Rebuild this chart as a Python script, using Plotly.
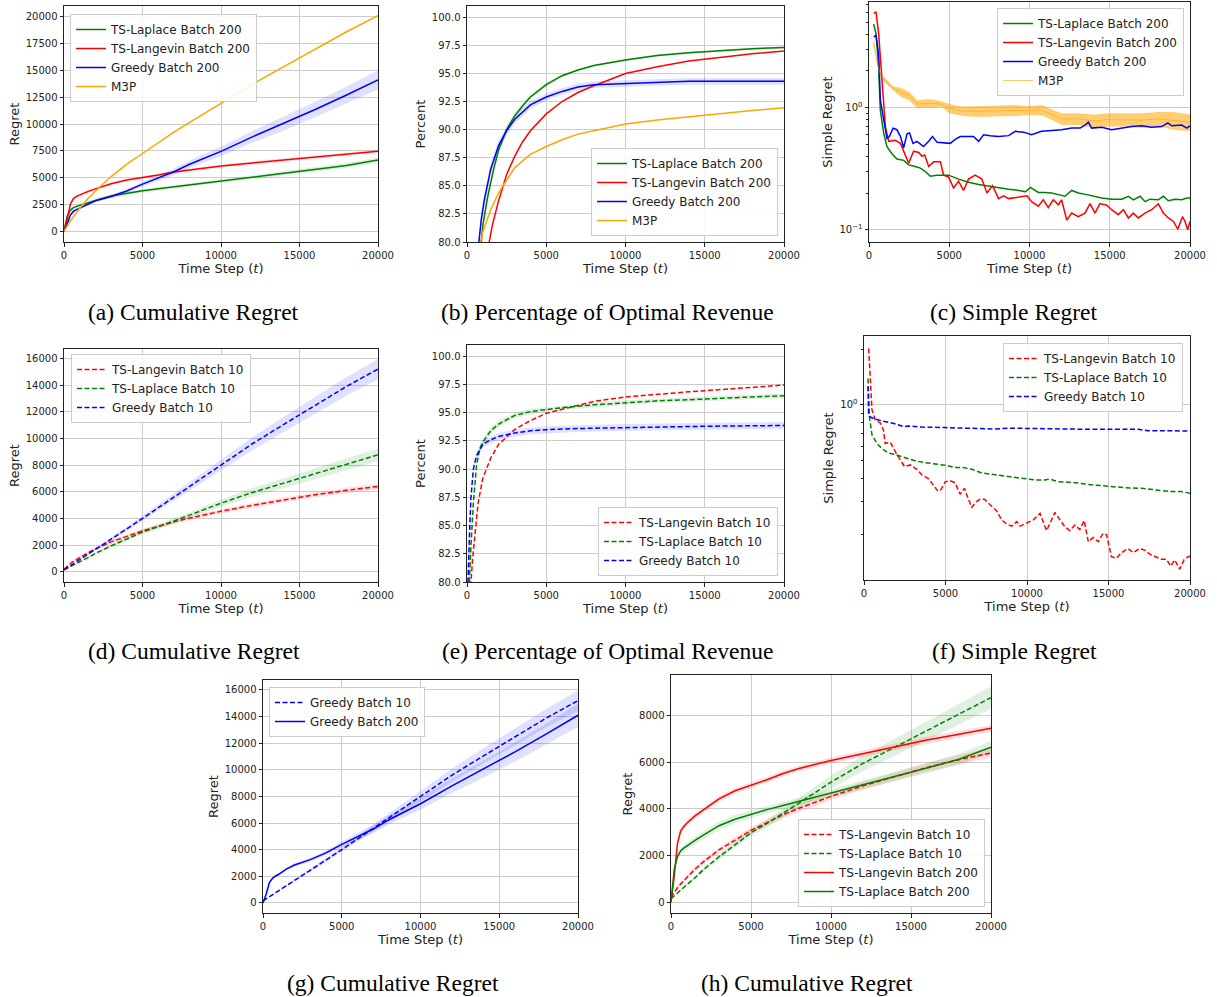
import plotly.graph_objects as go

W, H = 1217, 997
FONT = "DejaVu Sans"
SERIF = "Liberation Serif"

GREEN = "#008000"
RED = "#ff0000"
BLUE = "#0000ff"
ORANGE = "#ffa500"

# ---------------- cumulative regret ----------------
T_CUM = [0, 200, 400, 600, 800, 1000, 1500, 2000, 3000, 4000, 5000, 6000, 7000,
         8000, 10000, 12000, 14000, 16000, 18000, 20000]

CUM_LAPLACE_200 = [0, 1400, 1950, 2200, 2320, 2420, 2650, 2870, 3280, 3560, 3770, 3970, 4150,
                   4320, 4680, 5040, 5390, 5750, 6130, 6650]
CUM_LAPLACE_200_SD = [0, 80, 120, 130, 140, 150, 160, 170, 180, 180, 170, 160, 150,
                      150, 160, 180, 200, 220, 240, 260]
CUM_LANGEVIN_200 = [0, 1100, 2500, 3050, 3250, 3400, 3700, 3950, 4430, 4780, 5000, 5250, 5520,
                    5730, 6080, 6370, 6650, 6950, 7200, 7460]
CUM_LANGEVIN_200_SD = [0, 60, 100, 120, 120, 120, 120, 120, 120, 120, 120, 120, 130,
                       130, 130, 140, 140, 150, 150, 150]
CUM_GREEDY_200 = [0, 650, 1500, 1850, 2020, 2150, 2550, 2850, 3250, 3760, 4400, 4980, 5550,
                  6250, 7450, 8800, 10050, 11350, 12700, 14100]
CUM_GREEDY_200_SD = [0, 30, 60, 80, 90, 100, 110, 120, 150, 180, 220, 260, 300,
                     350, 450, 550, 650, 720, 800, 880]
CUM_M3P = [0, 500, 950, 1350, 1750, 2150, 3000, 3750, 5100, 6250, 7250, 8250, 9250,
           10150, 11950, 13700, 15350, 17000, 18600, 20100]

CUM_LANGEVIN_10 = [200, 430, 620, 780, 930, 1080, 1420, 1720, 2250, 2660, 3080, 3410, 3750,
                   4030, 4540, 4990, 5400, 5780, 6110, 6400]
CUM_LANGEVIN_10_SD = [0, 30, 50, 60, 70, 80, 90, 100, 110, 120, 130, 140, 150,
                      150, 160, 170, 180, 190, 200, 210]
CUM_LAPLACE_10 = [150, 280, 400, 520, 640, 760, 1050, 1380, 1950, 2470, 2980, 3380, 3800,
                  4250, 5150, 5950, 6650, 7350, 8050, 8770]
CUM_LAPLACE_10_SD = [0, 10, 20, 30, 40, 50, 70, 90, 120, 140, 150, 180, 200,
                     220, 280, 330, 370, 410, 450, 480]
CUM_GREEDY_10 = [150, 300, 450, 600, 760, 920, 1300, 1680, 2450, 3220, 4000, 4800, 5600,
                 6400, 8000, 9600, 11050, 12500, 13900, 15200]
CUM_GREEDY_10_SD = [0, 10, 20, 30, 40, 50, 70, 90, 130, 170, 210, 250, 290,
                    330, 410, 490, 570, 640, 700, 760]

# ---------------- percentage of optimal revenue, batch 200 ----------------
PCT_LAPLACE_200_T = [500, 900, 1000, 1300, 1700, 2000, 2500, 3000, 3500, 4000, 5000, 6000,
                     7000, 8000, 10000, 12000, 14000, 16000, 18000, 20000]
PCT_LAPLACE_200 = [62, 80, 81.5, 84.0, 86.6, 88.2, 90.0, 91.2, 92.1, 92.9, 94.0, 94.8,
                   95.3, 95.7, 96.2, 96.6, 96.85, 97.05, 97.2, 97.3]
PCT_LAPLACE_200_SD = [1, 0.6, 0.5, 0.45, 0.4, 0.35, 0.3, 0.3, 0.25, 0.2, 0.2, 0.15,
                      0.1, 0.1, 0.1, 0.1, 0.1, 0.1, 0.1, 0.1]
PCT_LANGEVIN_200_T = [900, 1400, 1600, 2000, 2500, 3000, 3500, 4000, 5000, 6000, 7000, 8000,
                      10000, 12000, 14000, 16000, 18000, 20000]
PCT_LANGEVIN_200 = [65, 80, 81.5, 83.7, 86.0, 87.6, 88.9, 89.9, 91.4, 92.5, 93.3, 93.9,
                    95.0, 95.6, 96.1, 96.45, 96.75, 97.0]
PCT_GREEDY_200_T = [400, 750, 900, 1100, 1500, 2000, 2500, 3000, 4000, 5000, 6000, 7000,
                    8000, 10000, 12000, 14000, 16000, 18000, 20000]
PCT_GREEDY_200 = [60, 80, 82, 83.8, 86.5, 88.6, 89.9, 90.9, 92.2, 92.9, 93.4, 93.8,
                  94.0, 94.1, 94.2, 94.3, 94.3, 94.3, 94.3]
PCT_GREEDY_200_SD = [1, 0.8, 0.7, 0.6, 0.5, 0.45, 0.4, 0.4, 0.35, 0.3, 0.3, 0.3,
                     0.3, 0.3, 0.3, 0.3, 0.3, 0.3, 0.3]
PCT_M3P_T = [500, 850, 1000, 1500, 2000, 3000, 4000, 5000, 6000, 7000, 8000, 10000,
             12000, 14000, 16000, 18000, 20000]
PCT_M3P = [75, 80, 80.9, 82.9, 84.4, 86.6, 87.8, 88.5, 89.1, 89.6, 89.9, 90.5,
           90.85, 91.15, 91.45, 91.7, 91.95]

# ---------------- percentage of optimal revenue, batch 10 ----------------
PCT_LANGEVIN_10_T = [100, 250, 350, 500, 700, 1000, 1500, 2000, 3000, 4000, 5000, 6000,
                     7000, 8000, 10000, 12000, 14000, 16000, 18000, 20000]
PCT_LANGEVIN_10 = [65, 80, 82, 84.3, 87.0, 89.2, 91.0, 92.2, 93.5, 94.3, 94.95, 95.3,
                   95.65, 96.0, 96.4, 96.65, 96.85, 97.05, 97.25, 97.45]
PCT_LAPLACE_10_T = [50, 150, 250, 400, 600, 800, 1000, 1500, 2000, 3000, 4000, 5000,
                    6000, 8000, 10000, 12000, 14000, 16000, 18000, 20000]
PCT_LAPLACE_10 = [70, 80, 83.2, 87.0, 90.3, 91.8, 92.4, 93.4, 94.0, 94.75, 95.1, 95.3,
                  95.45, 95.7, 95.9, 96.05, 96.15, 96.3, 96.4, 96.5]
PCT_LAPLACE_10_SD = [0.5, 0.4, 0.35, 0.3, 0.3, 0.3, 0.3, 0.3, 0.3, 0.25, 0.25, 0.2,
                     0.2, 0.2, 0.2, 0.2, 0.2, 0.2, 0.2, 0.2]
PCT_GREEDY_10_T = [20, 60, 150, 250, 400, 600, 1000, 1500, 2000, 3000, 4000, 5000,
                   7000, 10000, 15000, 20000]
PCT_GREEDY_10 = [70, 80, 84, 87.5, 90.0, 91.2, 92.2, 92.6, 92.9, 93.2, 93.4, 93.5,
                 93.6, 93.7, 93.8, 93.87]
PCT_GREEDY_10_SD = [0.5, 0.4, 0.35, 0.3, 0.3, 0.3, 0.3, 0.3, 0.3, 0.3, 0.3, 0.3,
                    0.3, 0.3, 0.3, 0.3]

# ---------------- simple regret, batch 200 ----------------
SR_LANGEVIN_200_T = [290, 435, 600, 810, 1020, 1230, 1640, 1960, 2160, 2470, 2780, 3100, 3300,
                     3470, 3720, 4030, 4450, 4650, 4960, 5270, 5580, 5890, 6200, 6620, 6830,
                     7030, 7350, 7700, 8070, 8390, 8700, 9330, 9850, 10130, 10550, 10860,
                     11170, 11480, 11800, 12000, 12320, 12630, 13040, 13460, 13770, 14080,
                     14390, 14810, 15120, 15530, 15850, 16160, 16470, 16780, 17200, 17610,
                     18030, 18340, 18650, 18970, 19240, 19530, 19690, 19860, 20000]
SR_LANGEVIN_200 = [5.9, 6.1, 4.06, 1.58, 0.70, 0.53, 0.54, 0.51, 0.44, 0.35, 0.44, 0.43, 0.40,
                   0.41, 0.33, 0.36, 0.36, 0.28, 0.27, 0.22, 0.25, 0.21, 0.26, 0.28, 0.27,
                   0.26, 0.20, 0.23, 0.18, 0.19, 0.18, 0.185, 0.19, 0.17, 0.156, 0.176,
                   0.152, 0.176, 0.16, 0.176, 0.12, 0.137, 0.128, 0.137, 0.164, 0.137,
                   0.164, 0.159, 0.146, 0.133, 0.146, 0.125, 0.137, 0.125, 0.137, 0.146,
                   0.163, 0.137, 0.125, 0.117, 0.101, 0.128, 0.117, 0.10, 0.117]
SR_LAPLACE_200_T = [290, 435, 602, 705, 913, 1120, 1430, 1740, 2160, 2470, 2880, 3200, 3510,
                    3820, 4240, 4960, 5580, 6200, 6830, 7450, 8070, 8700, 9330, 9750, 10060,
                    10550, 10960, 11380, 11800, 12210, 12630, 13040, 13560, 14080, 14500,
                    15120, 15750, 16160, 16470, 16890, 17200, 17510, 18030, 18340, 18650,
                    19070, 19490, 19800, 20000]
SR_LAPLACE_200 = [4.83, 4.05, 2.16, 0.955, 0.62, 0.48, 0.42, 0.38, 0.37, 0.34, 0.33, 0.32, 0.30,
                  0.275, 0.28, 0.28, 0.26, 0.245, 0.235, 0.228, 0.22, 0.215, 0.21, 0.205, 0.222,
                  0.202, 0.202, 0.20, 0.194, 0.188, 0.21, 0.20, 0.194, 0.188, 0.182,
                  0.178, 0.178, 0.188, 0.176, 0.188, 0.17, 0.178, 0.176, 0.188, 0.173,
                  0.178, 0.176, 0.182, 0.182]
SR_GREEDY_200_T = [290, 435, 602, 705, 913, 1120, 1270, 1500, 1740, 1960, 2160, 2370, 2530,
                   2740, 2990, 3400, 3720, 3960, 4240, 4750, 5060, 5370, 5680, 6100, 6510,
                   6830, 7140, 7550, 8070, 8700, 9120, 9640, 10130, 10750, 11380, 12000,
                   12630, 13150, 13460, 13670, 13870, 14500, 15120, 15750, 16370, 17000,
                   17610, 18240, 18620, 18860, 19490, 19800, 20000]
SR_GREEDY_200 = [3.8, 3.9, 2.75, 1.15, 0.80, 0.56, 0.58, 0.68, 0.66, 0.58, 0.47, 0.61, 0.62,
                 0.51, 0.53, 0.48, 0.53, 0.58, 0.52, 0.51, 0.51, 0.55, 0.58, 0.58, 0.58,
                 0.53, 0.60, 0.59, 0.58, 0.59, 0.64, 0.63, 0.60, 0.64, 0.65, 0.66,
                 0.68, 0.68, 0.72, 0.76, 0.68, 0.69, 0.66, 0.68, 0.70, 0.71,
                 0.69, 0.70, 0.75, 0.71, 0.72, 0.68, 0.71]
SR_M3P_T = [290, 500, 700, 900, 1200, 1500, 2000, 2500, 3000, 3500, 4000, 4500, 5000, 5500,
            6000, 7000, 8000, 9000, 10000, 10800, 11500, 12000, 13000, 14000, 15000, 16000,
            17000, 18000, 19000, 20000]
SR_M3P_LO = [3.3, 2.25, 1.8, 1.65, 1.5, 1.38, 1.22, 1.15, 0.99, 1.0, 1.0, 1.02, 0.9, 0.87,
             0.85, 0.84, 0.85, 0.85, 0.87, 0.86, 0.78, 0.72, 0.72, 0.68, 0.70, 0.70,
             0.68, 0.70, 0.66, 0.64]
SR_M3P_HI = [3.6, 2.5, 1.95, 1.8, 1.65, 1.5, 1.45, 1.35, 1.15, 1.17, 1.17, 1.12, 1.08, 1.03,
             1.02, 1.03, 1.03, 1.05, 1.03, 1.05, 0.95, 0.90, 0.90, 0.88, 0.90, 0.90,
             0.90, 0.92, 0.92, 0.88]

# ---------------- simple regret, batch 10 ----------------
SR_LANGEVIN_10_T = [286, 390, 490, 690, 1000, 1200, 1300, 1610, 1820, 2020, 2490, 2840, 3240,
                    3550, 3960, 4270, 4530, 4730, 4980, 5290, 5590, 5900, 6160, 6410, 6610,
                    6860, 7120, 7390, 7730, 8140, 8450, 8760, 9060, 9370, 9570, 9980, 10390,
                    10800, 11200, 11710, 12020, 12330, 12630, 12940, 13240, 13510, 13760,
                    14060, 14370, 14670, 14880, 15180, 15490, 15800, 16200, 16510, 16920,
                    17220, 17530, 17840, 18240, 18550, 18820, 19060, 19370, 19630, 19880,
                    20000]
SR_LANGEVIN_10 = [2.02, 1.36, 0.94, 0.83, 0.80, 0.73, 0.62, 0.63, 0.58, 0.54, 0.465, 0.475,
                  0.45, 0.42, 0.40, 0.37, 0.343, 0.35, 0.385, 0.39, 0.38, 0.33, 0.355, 0.31,
                  0.28, 0.30, 0.31, 0.31, 0.29, 0.268, 0.24, 0.228, 0.222, 0.235, 0.222,
                  0.232, 0.24, 0.26, 0.21, 0.263, 0.24, 0.22, 0.21, 0.225, 0.213, 0.238,
                  0.183, 0.193, 0.183, 0.203, 0.20, 0.152, 0.149, 0.16, 0.168, 0.16, 0.168,
                  0.165, 0.157, 0.152, 0.147, 0.147, 0.135, 0.146, 0.13, 0.146, 0.152,
                  0.153]
SR_LAPLACE_10_T = [245, 330, 490, 800, 1100, 1510, 1920, 2530, 3140, 3650, 4370, 4980, 5590,
                   6100, 6610, 7220, 8040, 8860, 9670, 10490, 11100, 11410, 11920, 12940,
                   13960, 14980, 16000, 17020, 18040, 18860, 19470, 20000]
SR_LAPLACE_10 = [1.39, 0.865, 0.69, 0.62, 0.58, 0.55, 0.54, 0.52, 0.50, 0.49, 0.48, 0.473,
                 0.46, 0.46, 0.45, 0.43, 0.42, 0.41, 0.40, 0.394, 0.394, 0.398, 0.386,
                 0.381, 0.371, 0.363, 0.358, 0.355, 0.348, 0.341, 0.341, 0.334]
SR_GREEDY_10_T = [245, 286, 490, 1100, 1710, 2430, 2730, 3550, 4980, 6610, 8040, 8860, 9980,
                  11920, 13960, 16000, 16820, 17430, 18860, 20000]
SR_GREEDY_10 = [1.26, 0.88, 0.85, 0.82, 0.80, 0.765, 0.77, 0.76, 0.755, 0.745, 0.742, 0.75,
                0.748, 0.739, 0.739, 0.739, 0.739, 0.727, 0.727, 0.724]

# ---------------- layout geometry (pixel boxes: left, top, right, bottom) ----------------
BOX = {
    1: (64, 6, 378, 242),
    2: (467, 6, 784, 242),
    3: (869, 2, 1190, 242),
    4: (64, 349, 378, 582),
    5: (467, 345, 784, 582),
    6: (864, 336, 1190, 580),
    7: (263, 680, 578, 913),
    8: (671, 675, 991, 913),
}


def px(xp):
    return xp / W


def py(yp):
    return 1 - yp / H


def rgba(hex_color, a):
    h = hex_color.lstrip("#")
    r, g, b = int(h[0:2], 16), int(h[2:4], 16), int(h[4:6], 16)
    return f"rgba({r},{g},{b},{a})"


fig = go.Figure()


def axref(n):
    return ("x" if n == 1 else f"x{n}"), ("y" if n == 1 else f"y{n}")


def legref(n):
    return "legend" if n == 1 else f"legend{n}"


def add_band_sd(n, t, y, sd, color, alpha=0.12):
    xa, ya = axref(n)
    up = [a + b for a, b in zip(y, sd)]
    lo = [a - b for a, b in zip(y, sd)]
    fig.add_trace(go.Scatter(x=t + t[::-1], y=up + lo[::-1], mode="lines", fill="toself",
                             fillcolor=rgba(color, alpha), line=dict(width=0),
                             hoverinfo="skip", showlegend=False, xaxis=xa, yaxis=ya))


def add_band_lohi(n, t, lo, hi, color, alpha):
    xa, ya = axref(n)
    fig.add_trace(go.Scatter(x=t + t[::-1], y=hi + lo[::-1], mode="lines", fill="toself",
                             fillcolor=rgba(color, alpha), line=dict(width=0),
                             hoverinfo="skip", showlegend=False, xaxis=xa, yaxis=ya))


def add_line(n, t, y, color, name, dashed=False, width=1.5):
    xa, ya = axref(n)
    fig.add_trace(go.Scatter(x=t, y=y, mode="lines", name=name,
                             line=dict(color=color, width=width,
                                       dash="5px,2.5px" if dashed else "solid"),
                             xaxis=xa, yaxis=ya, legend=legref(n)))


# (a) cumulative regret, batch 200
add_band_sd(1, T_CUM, CUM_LAPLACE_200, CUM_LAPLACE_200_SD, GREEN)
add_band_sd(1, T_CUM, CUM_LANGEVIN_200, CUM_LANGEVIN_200_SD, RED)
add_band_sd(1, T_CUM, CUM_GREEDY_200, CUM_GREEDY_200_SD, BLUE)
add_line(1, T_CUM, CUM_LAPLACE_200, GREEN, "TS-Laplace Batch 200")
add_line(1, T_CUM, CUM_LANGEVIN_200, RED, "TS-Langevin Batch 200")
add_line(1, T_CUM, CUM_GREEDY_200, BLUE, "Greedy Batch 200")
add_line(1, T_CUM, CUM_M3P, ORANGE, "M3P")

# (b) percentage of optimal revenue, batch 200
add_band_sd(2, PCT_LAPLACE_200_T, PCT_LAPLACE_200, PCT_LAPLACE_200_SD, GREEN)
add_band_sd(2, PCT_GREEDY_200_T, PCT_GREEDY_200, PCT_GREEDY_200_SD, BLUE)
add_line(2, PCT_LAPLACE_200_T, PCT_LAPLACE_200, GREEN, "TS-Laplace Batch 200")
add_line(2, PCT_LANGEVIN_200_T, PCT_LANGEVIN_200, RED, "TS-Langevin Batch 200")
add_line(2, PCT_GREEDY_200_T, PCT_GREEDY_200, BLUE, "Greedy Batch 200")
add_line(2, PCT_M3P_T, PCT_M3P, ORANGE, "M3P")

# (c) simple regret, batch 200
add_band_lohi(3, SR_M3P_T, SR_M3P_LO, SR_M3P_HI, ORANGE, 0.55)
add_line(3, SR_LAPLACE_200_T, SR_LAPLACE_200, GREEN, "TS-Laplace Batch 200")
add_line(3, SR_LANGEVIN_200_T, SR_LANGEVIN_200, RED, "TS-Langevin Batch 200")
add_line(3, SR_GREEDY_200_T, SR_GREEDY_200, BLUE, "Greedy Batch 200")
m3p_mid = [(a + b) / 2 for a, b in zip(SR_M3P_LO, SR_M3P_HI)]
add_line(3, SR_M3P_T, m3p_mid, ORANGE, "M3P", width=0.6)

# (d) cumulative regret, batch 10
add_band_sd(4, T_CUM, CUM_LANGEVIN_10, CUM_LANGEVIN_10_SD, RED)
add_band_sd(4, T_CUM, CUM_LAPLACE_10, CUM_LAPLACE_10_SD, GREEN)
add_band_sd(4, T_CUM, CUM_GREEDY_10, CUM_GREEDY_10_SD, BLUE)
add_line(4, T_CUM, CUM_LANGEVIN_10, RED, "TS-Langevin Batch 10", dashed=True)
add_line(4, T_CUM, CUM_LAPLACE_10, GREEN, "TS-Laplace Batch 10", dashed=True)
add_line(4, T_CUM, CUM_GREEDY_10, BLUE, "Greedy Batch 10", dashed=True)

# (e) percentage of optimal revenue, batch 10
add_band_sd(5, PCT_LAPLACE_10_T, PCT_LAPLACE_10, PCT_LAPLACE_10_SD, GREEN)
add_band_sd(5, PCT_GREEDY_10_T, PCT_GREEDY_10, PCT_GREEDY_10_SD, BLUE)
add_line(5, PCT_LANGEVIN_10_T, PCT_LANGEVIN_10, RED, "TS-Langevin Batch 10", dashed=True)
add_line(5, PCT_LAPLACE_10_T, PCT_LAPLACE_10, GREEN, "TS-Laplace Batch 10", dashed=True)
add_line(5, PCT_GREEDY_10_T, PCT_GREEDY_10, BLUE, "Greedy Batch 10", dashed=True)

# (f) simple regret, batch 10
add_line(6, SR_LANGEVIN_10_T, SR_LANGEVIN_10, RED, "TS-Langevin Batch 10", dashed=True)
add_line(6, SR_LAPLACE_10_T, SR_LAPLACE_10, GREEN, "TS-Laplace Batch 10", dashed=True)
add_line(6, SR_GREEDY_10_T, SR_GREEDY_10, BLUE, "Greedy Batch 10", dashed=True)

# (g) greedy: batch 10 vs batch 200
add_band_sd(7, T_CUM, CUM_GREEDY_10, CUM_GREEDY_10_SD, BLUE)
add_band_sd(7, T_CUM, CUM_GREEDY_200, CUM_GREEDY_200_SD, BLUE)
add_line(7, T_CUM, CUM_GREEDY_10, BLUE, "Greedy Batch 10", dashed=True)
add_line(7, T_CUM, CUM_GREEDY_200, BLUE, "Greedy Batch 200")

# (h) Thompson sampling: batch 10 vs batch 200
add_band_sd(8, T_CUM, CUM_LANGEVIN_10, CUM_LANGEVIN_10_SD, RED)
add_band_sd(8, T_CUM, CUM_LAPLACE_10, CUM_LAPLACE_10_SD, GREEN)
add_band_sd(8, T_CUM, CUM_LANGEVIN_200, CUM_LANGEVIN_200_SD, RED)
add_band_sd(8, T_CUM, CUM_LAPLACE_200, CUM_LAPLACE_200_SD, GREEN)
add_line(8, T_CUM, CUM_LANGEVIN_10, RED, "TS-Langevin Batch 10", dashed=True)
add_line(8, T_CUM, CUM_LAPLACE_10, GREEN, "TS-Laplace Batch 10", dashed=True)
add_line(8, T_CUM, CUM_LANGEVIN_200, RED, "TS-Langevin Batch 200")
add_line(8, T_CUM, CUM_LAPLACE_200, GREEN, "TS-Laplace Batch 200")

# ---------------- axes ----------------
X_TICKS = [0, 5000, 10000, 15000, 20000]
PCT_TICKS = [80, 82.5, 85, 87.5, 90, 92.5, 95, 97.5, 100]
YCFG = {
    1: dict(title="Regret", range=[-1000, 21000], tickvals=list(range(0, 20001, 2500))),
    2: dict(title="Percent", range=[80, 101], tickvals=PCT_TICKS, tickformat=".1f"),
    3: dict(title="Simple Regret", type="log", range=[-1.1, 0.865], tickvals=[0.1, 1],
            ticktext=["10<sup>\u22121</sup>", "10<sup>0</sup>"],
            minor=[0.2, 0.3, 0.4, 0.5, 0.6, 0.7, 0.8, 0.9, 2, 3, 4, 5, 6, 7]),
    4: dict(title="Regret", range=[-760, 16700], tickvals=list(range(0, 16001, 2000))),
    5: dict(title="Percent", range=[80, 101], tickvals=PCT_TICKS, tickformat=".1f"),
    6: dict(title="Simple Regret", type="log", range=[-0.944, 0.372], tickvals=[1],
            ticktext=["10<sup>0</sup>"],
            minor=[0.2, 0.3, 0.4, 0.5, 0.6, 0.7, 0.8, 0.9, 2]),
    7: dict(title="Regret", range=[-760, 16750], tickvals=list(range(0, 16001, 2000))),
    8: dict(title="Regret", range=[-460, 9740], tickvals=list(range(0, 8001, 2000))),
}

AXLINE = "#222222"
GRID = "#cccccc"
common = dict(showline=True, linecolor=AXLINE, linewidth=1, mirror=True,
              ticks="outside", ticklen=3.5, tickwidth=0.8, tickcolor=AXLINE,
              showgrid=True, gridcolor=GRID, gridwidth=1, zeroline=False,
              automargin=False,
              tickfont=dict(size=10, family=FONT, color="#222222"))

layout = dict(width=W, height=H, margin=dict(l=0, r=0, t=0, b=0, autoexpand=False),
              paper_bgcolor="white", plot_bgcolor="white",
              font=dict(family=FONT, color="#222222"), showlegend=True)

for n, (l, t, r, b) in BOX.items():
    xname = "xaxis" if n == 1 else f"xaxis{n}"
    yname = "yaxis" if n == 1 else f"yaxis{n}"
    xa, ya = axref(n)
    layout[xname] = dict(common, domain=[px(l), px(r)], range=[0, 20000], anchor=ya,
                         tickvals=X_TICKS, tickformat="d",
                         title=dict(text="Time Step (<i>t</i>)", font=dict(size=13, family=FONT),
                                    standoff=4))
    cfg = YCFG[n]
    ycfg = dict(common, domain=[py(b), py(t)], anchor=xa, range=cfg["range"],
                tickvals=cfg["tickvals"],
                title=dict(text=cfg["title"], font=dict(size=13, family=FONT), standoff=3))
    if "type" in cfg:
        ycfg["type"] = cfg["type"]
        ycfg["ticktext"] = cfg["ticktext"]
        ycfg["minor"] = dict(tickvals=cfg["minor"], ticks="outside", ticklen=2,
                             tickwidth=0.6, tickcolor=AXLINE, showgrid=False)
    else:
        ycfg["tickformat"] = cfg.get("tickformat", "d")
    layout[yname] = ycfg

# ---------------- legends ----------------
LEGEND_POS = {
    1: (70, 14, "left", "top"),
    2: (778, 236, "right", "bottom"),
    3: (1184, 8, "right", "top"),
    4: (71, 354, "left", "top"),
    5: (778, 576, "right", "bottom"),
    6: (1183, 343, "right", "top"),
    7: (269, 687, "left", "top"),
    8: (985, 907, "right", "bottom"),
}
for n, (xp_, yp_, xanc, yanc) in LEGEND_POS.items():
    layout[legref(n)] = dict(x=px(xp_), y=py(yp_), xanchor=xanc, yanchor=yanc,
                             font=dict(size=12, family=FONT, color="#222222"),
                             bgcolor="rgba(255,255,255,0.85)", bordercolor="#cccccc",
                             borderwidth=1, itemwidth=30, tracegroupgap=0)

fig.update_layout(**layout)

# ---------------- captions ----------------
CAPTIONS = [
    ("(a) Cumulative Regret", 193, 312),
    ("(b) Percentage of Optimal Revenue", 607, 312),
    ("(c) Simple Regret", 1014, 312),
    ("(d) Cumulative Regret", 194, 651),
    ("(e) Percentage of Optimal Revenue", 607, 651),
    ("(f) Simple Regret", 1014, 651),
    ("(g) Cumulative Regret", 393, 983),
    ("(h) Cumulative Regret", 807, 983),
]
for text, cx, cy in CAPTIONS:
    fig.add_annotation(text=text, x=px(cx), y=py(cy), xref="paper", yref="paper",
                       xanchor="center", yanchor="middle", showarrow=False,
                       font=dict(family=SERIF, size=23.5, color="black"))

fig.write_html("out.html")
